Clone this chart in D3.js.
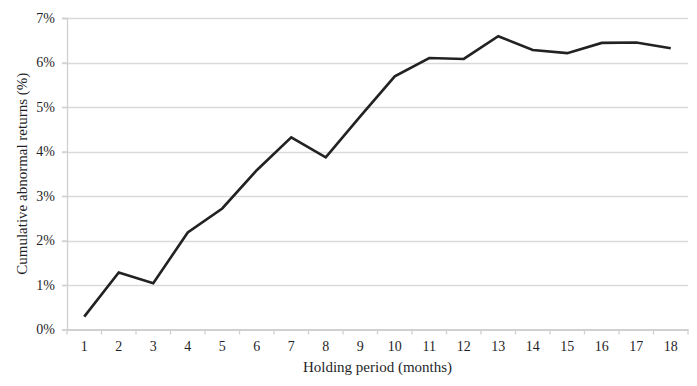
<!DOCTYPE html>
<html><head><meta charset="utf-8">
<script src="https://cdn.jsdelivr.net/npm/d3@7"></script>
<style>body{margin:0;background:#fff}svg{display:block}</style>
</head><body>
<script>
const months = [1,2,3,4,5,6,7,8,9,10,11,12,13,14,15,16,17,18];
const car = [0.29,1.28,1.04,2.18,2.72,3.58,4.32,3.87,4.79,5.69,6.10,6.08,6.59,6.28,6.21,6.44,6.45,6.32];
const yTicks = [0,1,2,3,4,5,6,7];
const xLabel = "Holding period (months)";
const yLabel = "Cumulative abnormal returns (%)";

const W = 697, H = 386;
const m = {left:67, right:9, top:18, bottom:56.5};
const svg = d3.select("body").append("svg").attr("width",W).attr("height",H);
const x = d3.scaleBand().domain(months).range([m.left, W-m.right]);
const y = d3.scaleLinear().domain([0,7]).range([H-m.bottom, m.top]);
const font = "'Liberation Serif','Times New Roman',serif";
const textCol = "#1f1f28";

// gridlines
svg.append("g").selectAll("line").data(yTicks.filter(d=>d>0)).join("line")
  .attr("x1", m.left-5).attr("x2", W-m.right)
  .attr("y1", d=>Math.round(y(d))+0.5).attr("y2", d=>Math.round(y(d))+0.5)
  .attr("stroke","#dadada").attr("stroke-width",1.3);

// y axis
const ya = svg.append("g").attr("transform",`translate(${m.left},0)`)
  .call(d3.axisLeft(y).tickValues(yTicks).tickFormat(d=>d+"%").tickSize(5).tickPadding(7));
ya.select(".domain").attr("stroke","#d0d0d0").attr("stroke-width",1.3);
ya.selectAll(".tick line").attr("stroke","#d0d0d0").attr("stroke-width",1.3);
ya.selectAll("text").attr("font-family",font).attr("font-size",14).attr("fill",textCol);

// x axis
const xa = svg.append("g").attr("transform",`translate(0,${H-m.bottom})`)
  .call(d3.axisBottom(x).tickSize(0).tickPadding(12));
xa.select(".domain").attr("stroke","#d0d0d0").attr("stroke-width",2);
xa.selectAll("text").attr("font-family",font).attr("font-size",14).attr("fill",textCol);
// boundary ticks between categories
const bounds = months.map(d=>x(d)).concat([x(months[months.length-1])+x.bandwidth()]);
xa.append("g").selectAll("line").data(bounds).join("line")
  .attr("x1",d=>d).attr("x2",d=>d).attr("y1",0).attr("y2",5)
  .attr("stroke","#d0d0d0").attr("stroke-width",1.3);

// line
const line = d3.line().x((d,i)=>x(months[i])+x.bandwidth()/2).y(d=>y(d));
svg.append("path").datum(car).attr("d",line)
  .attr("fill","none").attr("stroke","#222").attr("stroke-width",2.6)
  .attr("stroke-linejoin","miter");

// labels
svg.append("text").attr("x",(m.left+W-m.right)/2).attr("y",372)
  .attr("text-anchor","middle").attr("font-family",font).attr("font-size",15).attr("fill",textCol)
  .text(xLabel);
svg.append("text").attr("transform",`translate(27,${(m.top+H-m.bottom)/2}) rotate(-90)`)
  .attr("text-anchor","middle").attr("font-family",font).attr("font-size",15).attr("fill",textCol)
  .text(yLabel);
</script>
</body></html>
